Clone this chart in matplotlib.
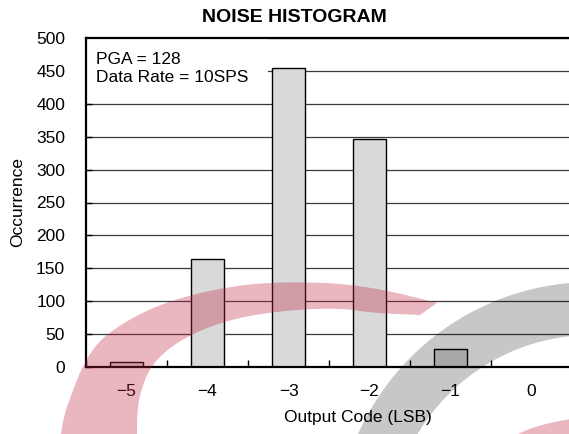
import numpy as np
import matplotlib
matplotlib.use("Agg")
import matplotlib.pyplot as plt
from matplotlib.patches import Rectangle, Polygon

plt.rcParams['font.family'] = ['Liberation Sans', 'DejaVu Sans']

# datos del histograma
codes = [-5, -4, -3, -2, -1, 0]
counts = [8, 164, 454, 346, 27, 0]
y_ticks = [0, 50, 100, 150, 200, 250, 300, 350, 400, 450, 500]

W, H = 569, 434
fig = plt.figure(figsize=(W / 100, H / 100), dpi=100)

# ejes: la derecha se sale un poco de la figura, como en el original
ax = fig.add_axes([86 / W, 67 / H, 486 / W, 329 / H])
ax.set_xlim(-5.5, 0.5)
ax.set_ylim(0, 500)

ax.set_axisbelow(True)
ax.yaxis.grid(True, color='#3a3a3a', linewidth=0.9)
ax.bar(codes, counts, width=0.41, color='#d9d9d9', edgecolor='black',
       linewidth=1.0, zorder=2)

# caja blanca detras del texto
ax.add_patch(Rectangle((0, 0.83), 0.374, 0.17, transform=ax.transAxes,
                       facecolor='white', edgecolor='none', zorder=1.5))
ax.text(0.02, 0.958, 'PGA = 128\nData Rate = 10SPS', transform=ax.transAxes,
        fontsize=12.5, va='top', ha='left', linespacing=1.3, zorder=3)

ax.set_yticks(y_ticks)
ax.set_xticks(codes)
ax.set_xticks(np.arange(-5.5, 0.6, 1.0), minor=True)
ax.tick_params(axis='y', direction='in', length=4, width=1, labelsize=12.5, pad=15)
ax.tick_params(axis='x', which='major', length=0, labelsize=12.5, pad=12)
ax.tick_params(axis='x', which='minor', direction='in', length=5, width=1)

for s in ['left', 'bottom', 'top']:
    ax.spines[s].set_linewidth(1.6)
ax.spines['right'].set_visible(False)

ax.set_xlabel('Output Code (LSB)', fontsize=12.5)
ax.xaxis.set_label_coords((358 - 86) / 486, -0.13)

fig.text(294 / W, 1 - 17 / H, 'NOISE HISTOGRAM', fontsize=14, fontweight='bold',
         ha='center', va='center')
fig.text(18 / W, 1 - 202 / H, 'Occurrence', fontsize=12.5, rotation=90,
         ha='center', va='center')


# suavizado de Chaikin para los bordes de la marca de agua
def chaikin(pts, n=3):
    pts = np.asarray(pts, float)
    for _ in range(n):
        q = 0.75 * pts[:-1] + 0.25 * pts[1:]
        r = 0.25 * pts[:-1] + 0.75 * pts[1:]
        mid = np.empty((2 * len(q), 2))
        mid[0::2] = q
        mid[1::2] = r
        pts = np.vstack([pts[:1], mid, pts[-1:]])
    return pts


# marca de agua (arcos rosa y gris) encima de todo
wm = fig.add_axes([0, 0, 1, 1], zorder=10)
wm.set_xlim(0, W)
wm.set_ylim(H, 0)
wm.axis('off')
wm.patch.set_alpha(0)

pink_outer = [(60, 440), (64, 415), (72, 393), (82, 367), (97, 343), (117, 327),
              (147, 310), (183, 297), (227, 287), (273, 282), (340, 283),
              (390, 291), (437, 303)]
pink_inner = [(420, 315), (373, 313), (340, 308), (290, 310), (240, 317),
              (200, 330), (170, 347), (150, 367), (140, 393), (137, 415), (137, 440)]
shape = np.vstack([chaikin(pink_outer), chaikin(pink_inner)])
wm.add_patch(Polygon(shape, closed=True, facecolor='#c02340',
                     edgecolor='none', alpha=0.33))
wm.add_patch(Polygon(chaikin([(505, 440), (535, 426), (575, 418)]).tolist() + [(575, 440)],
                     closed=True, facecolor='#c02340', edgecolor='none', alpha=0.33))

t = np.linspace(np.radians(95), np.radians(160), 60)
cx, cy = 592, 538
outer = [(cx + 256 * np.cos(a), cy - 256 * np.sin(a)) for a in t]
inner = [(cx + 203 * np.cos(a), cy - 203 * np.sin(a)) for a in t[::-1]]
wm.add_patch(Polygon(outer + inner, closed=True, facecolor='black',
                     edgecolor='none', alpha=0.22))

fig.savefig('out.png', dpi=100)
